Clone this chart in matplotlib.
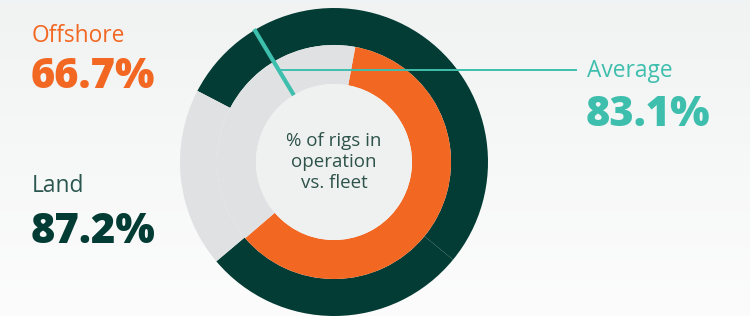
import numpy as np
import matplotlib.pyplot as plt
from matplotlib.patches import Circle

plt.rcParams['font.family'] = ['Open Sans', 'DejaVu Sans']

# arc shares (% of a full turn, clockwise)
land_arcs = [53.3, 27.9, 18.8]        # dark, dark, unused
land_start = 297.5                      # degrees clockwise from 12 o'clock
offshore_arcs = [60.8, 39.2]           # in operation, unused
offshore_start = 10.5
average_angle = 329.0                   # marker position, clockwise from 12

labels = ["Offshore", "Land", "Average"]
values = ["66.7%", "87.2%", "83.1%"]

DARK = "#033c34"
ORANGE = "#f26722"
GREY = "#e0e1e3"
TEAL = "#3ebfad"
INNER = "#eff1f0"

W, H = 750, 316
fig = plt.figure(figsize=(7.5, 3.16), dpi=100)
ax = fig.add_axes([0, 0, 1, 1])

# soft vertical background gradient
grad = np.linspace(0, 1, 100).reshape(-1, 1)
bg = np.array([[0.988, 0.988, 0.988]]) * (1 - grad) + np.array([[0.945, 0.953, 0.953]]) * grad
ax.imshow(bg.reshape(100, 1, 3)[::-1], extent=[0, W, 0, H], aspect='auto', zorder=0)

cx, cy = 334, H - 162
r_out, r_mid, r_in = 154, 117, 78

ax.pie(land_arcs, radius=r_out, center=(cx, cy), startangle=90 - land_start,
       counterclock=False, colors=[DARK, DARK, GREY],
       wedgeprops=dict(width=r_out - r_mid, linewidth=0))
ax.pie(offshore_arcs, radius=r_mid, center=(cx, cy), startangle=90 - offshore_start,
       counterclock=False, colors=[ORANGE, GREY],
       wedgeprops=dict(width=r_mid - r_in, linewidth=0))
ax.add_patch(Circle((cx, cy), r_in, color=INNER, lw=0, zorder=3))

# average marker across both rings
t = np.deg2rad(average_angle)
ax.plot([cx + r_in * np.sin(t), cx + (r_out + 1) * np.sin(t)],
        [cy + r_in * np.cos(t), cy + (r_out + 1) * np.cos(t)],
        color=TEAL, lw=3, solid_capstyle='butt', zorder=5)
y_lead = H - 69.5
x_lead = cx + (y_lead - cy) * np.tan(t)
ax.plot([x_lead, 576], [y_lead, y_lead], color=TEAL, lw=1.4, zorder=5)

ax.text(cx, H - 162, "% of rigs in\noperation\nvs. fleet", ha='center', va='center',
        fontsize=13.5, color="#2d5249", linespacing=1.25, zorder=6)

big = dict(fontsize=30, fontweight='heavy', va='baseline')
ax.text(32, H - 42, labels[0], fontsize=16.4, color=ORANGE, va='baseline')
ax.text(31, H - 87.5, values[0], color=ORANGE, **big)
ax.text(32, H - 192, labels[1], fontsize=16.4, color="#2b5750", va='baseline')
ax.text(31, H - 243, values[1], color=DARK, **big)
ax.text(587, H - 77.3, labels[2], fontsize=16.4, color=TEAL, va='baseline')
ax.text(586, H - 126, values[2], color=TEAL, **big)

ax.set_xlim(0, W)
ax.set_ylim(0, H)
ax.set_aspect('auto')
ax.axis('off')

fig.savefig("out.png", dpi=100)
